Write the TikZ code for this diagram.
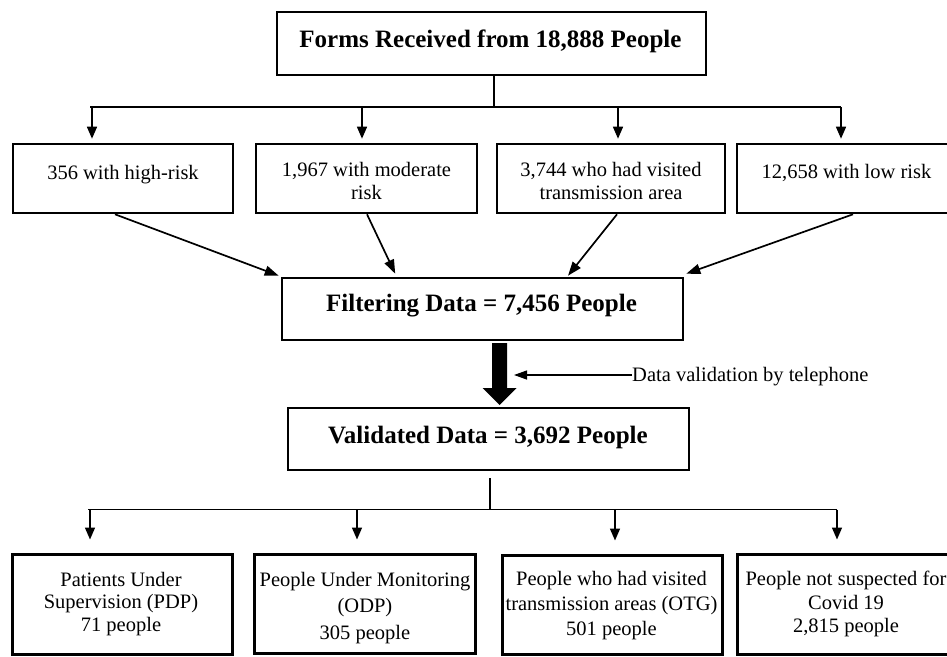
\documentclass[tikz,border=0pt]{standalone}
\usepackage{fontspec}
\setmainfont{Liberation Serif}
\usetikzlibrary{arrows.meta}
\begin{document}
\begin{tikzpicture}[x=1pt,y=-1pt,
  box/.style={draw, line width=2.6pt, inner sep=0pt, rectangle},
  lowbox/.style={box, line width=3pt},
  txt/.style={font=\fontsize{20.5}{22.5}\selectfont, align=center, inner sep=0pt},
  btxt/.style={font=\bfseries\fontsize{25}{28}\selectfont, inner sep=0pt},
  tline/.style={line width=1.8pt},
  arr/.style={line width=1.5pt, -{Triangle[width=10pt,length=12pt]}},
  darr/.style={line width=1.7pt, -{Triangle[width=10pt,length=14pt]}},
  sarr/.style={line width=1.3pt, -{Triangle[width=9pt,length=13pt]}}]
\useasboundingbox (0,0) rectangle (947,656);
\fill[white] (0,0) rectangle (947,656);
\clip (0,0) rectangle (947,656);

% boxes
\node[box, minimum width=429pt, minimum height=63pt] (top) at (491.5,43.5) {};
\node[box, minimum width=220pt, minimum height=69pt] (r1a) at (123,178.5) {};
\node[box, minimum width=221pt, minimum height=69pt] (r1b) at (366.5,178.5) {};
\node[box, minimum width=228pt, minimum height=69pt] (r1c) at (611,178.5) {};
\node[box, minimum width=222pt, minimum height=69pt] (r1d) at (848,178.5) {};
\node[box, minimum width=401pt, minimum height=62pt] (filt) at (482.5,309) {};
\node[box, minimum width=401pt, minimum height=62pt] (val) at (488.5,439) {};
\node[lowbox, minimum width=220pt, minimum height=100pt] (r2a) at (122,604) {};
\node[lowbox, minimum width=221pt, minimum height=99pt] (r2b) at (364.5,603.5) {};
\node[lowbox, minimum width=220pt, minimum height=99pt] (r2c) at (612,604.5) {};
\node[lowbox, minimum width=222pt, minimum height=100pt] (r2d) at (848,604) {};

% texts
\node[btxt] (topT) at (490.5,41) {Forms Received from 18,888 People};
\node[txt] (r1aT) at (123,175) {356 with high-risk};
\node[txt] (r1bT) at (366.5,181) {1,967 with moderate\\risk};
\node[txt] (r1cT) at (611,181) {3,744 who had visited\\transmission area};
\node[txt] (r1dT) at (846.5,172.5) {12,658 with low risk};
\node[btxt] (filtT) at (481.5,305.5) {Filtering Data = 7,456 People};
\node[btxt] (valT) at (488,437) {Validated Data = 3,692 People};
\node[txt] (r2aT) at (121,604) {Patients Under\\Supervision (PDP)\\71 people};
\node[txt, font=\fontsize{20.5}{26.5}\selectfont] (r2bT) at (365,608) {People Under Monitoring\\(ODP)\\305 people};
\node[txt, font=\fontsize{20.5}{25}\selectfont] (r2cT) at (611.5,605.5) {People who had visited\\transmission areas (OTG)\\501 people};
\node[txt, font=\fontsize{20.5}{23.5}\selectfont] (r2dT) at (846,604) {People not suspected for\\Covid 19\\2,815 people};
\node[txt, anchor=west] (dv) at (632,377) {Data validation by telephone};

% top tree
\coordinate (h1) at (494,107);
\coordinate (h1L) at (90,107);
\coordinate (h1R) at (841,107);
\coordinate (a1) at (92,107);
\coordinate (a2) at (362,107);
\coordinate (a3) at (618,107);
\coordinate (a4) at (841,107);
\draw[tline] (top.south -| h1) -- (h1);
\draw[tline] (h1L) -- (h1R);
\foreach \c/\b in {a1/r1a,a2/r1b,a3/r1c,a4/r1d}
  \draw[arr] (\c) -- ([yshift=4pt]\c |- \b.north);

% converging arrows
\draw[darr] ([xshift=-8pt]r1a.south) -- ([xshift=-2pt,yshift=1pt]filt.north west);
\draw[darr] ([xshift=0.5pt]r1b.south) -- ([xshift=114.5pt,yshift=3pt]filt.north west);
\draw[darr] ([xshift=6pt]r1c.south) -- ([xshift=85.5pt,yshift=1pt]filt.north);
\draw[darr] ([xshift=5pt]r1d.south) -- ([xshift=2pt,yshift=3pt]filt.north east);

% thick arrow
\coordinate (bt) at (499.5,343);
\coordinate (bh) at (499.5,405);
\fill ([xshift=-7.5pt]bt) -- ([xshift=7.5pt]bt) -- ([xshift=7.5pt,yshift=-45pt]bt)
  -- ([xshift=17pt,yshift=-45pt]bt) -- (bh) -- ([xshift=-17pt,yshift=-45pt]bt)
  -- ([xshift=-7.5pt,yshift=-45pt]bt) -- cycle;
\draw[sarr] ([yshift=2pt]dv.west) -- ([xshift=14.5pt,yshift=2pt]bt |- dv.west);

% bottom tree
\coordinate (h2) at (490,509.5);
\coordinate (h2L) at (88,509.5);
\coordinate (h2R) at (837,509.5);
\coordinate (b1) at (90,509.5);
\coordinate (b2) at (357,509.5);
\coordinate (b3) at (615,509.5);
\coordinate (b4) at (837,509.5);
\draw[tline] ([yshift=-7pt]val.south -| h2) -- (h2);
\draw[tline] (h2L) -- (h2R);
\foreach \c/\b in {b1/r2a,b2/r2b,b3/r2c,b4/r2d}
  \draw[arr] (\c) -- ([yshift=13pt]\c |- \b.north);
\end{tikzpicture}
\end{document}
